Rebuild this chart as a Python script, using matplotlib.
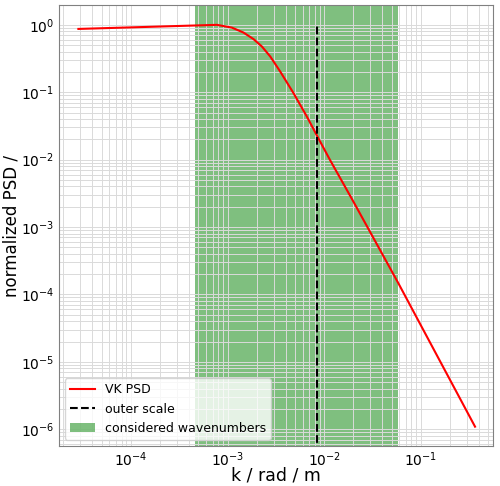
import matplotlib as mpl
import matplotlib.pyplot as plt

# values (log-log plot)
k = [2.86e-5, 7.77e-4, 1.11e-3, 1.46e-3, 1.86e-3, 2.27e-3, 2.77e-3, 3.51e-3,
     4.82e-3, 6.62e-3, 8.53e-3, 1.15e-2, 1.96e-2, 5.86e-2, 0.365]
psd = [0.87, 1.0, 0.91, 0.77, 0.614, 0.477, 0.339, 0.203,
       0.097, 0.0437, 0.022, 9.9e-3, 2.54e-3, 1.47e-4, 1.09e-6]
k_outer = 8.5e-3
k_range = (4.63e-4, 5.86e-2)


def main() -> None:
    mpl.rcParams["font.size"] = 9
    fig = plt.figure(figsize=(5.0, 4.86), dpi=100)
    ax = fig.add_axes([0.117, 0.082, 0.869, 0.908])

    ax.plot(k, psd, color="red", lw=1.5, label="VK PSD")
    ax.vlines(k_outer, 1e-8, psd[1], color="black", linestyles="--", lw=1.5,
              label="outer scale")
    ax.axvspan(*k_range, color="green", alpha=0.5, lw=0, label="considered wavenumbers")

    ax.set_xscale("log")
    ax.set_yscale("log")
    ax.set_xlim(1.78e-5, 0.56)
    ax.set_ylim(5.6e-7, 1.98)
    ax.grid(True, which="both", color="#dadada", lw=0.7)
    for sp in ax.spines.values():
        sp.set_color("gray")
    ax.tick_params(which="both", length=0, pad=3, labelsize=10)

    ax.set_xlabel("k / rad / m", fontsize=12.5)
    ax.set_ylabel("normalized PSD /", fontsize=12)
    ax.xaxis.set_label_coords(0.5, -0.045)
    ax.yaxis.set_label_coords(-0.088, 0.5)
    ax.legend(loc="lower left", fontsize=9)

    fig.savefig("out.png", dpi=100)


if __name__ == "__main__":
    main()
